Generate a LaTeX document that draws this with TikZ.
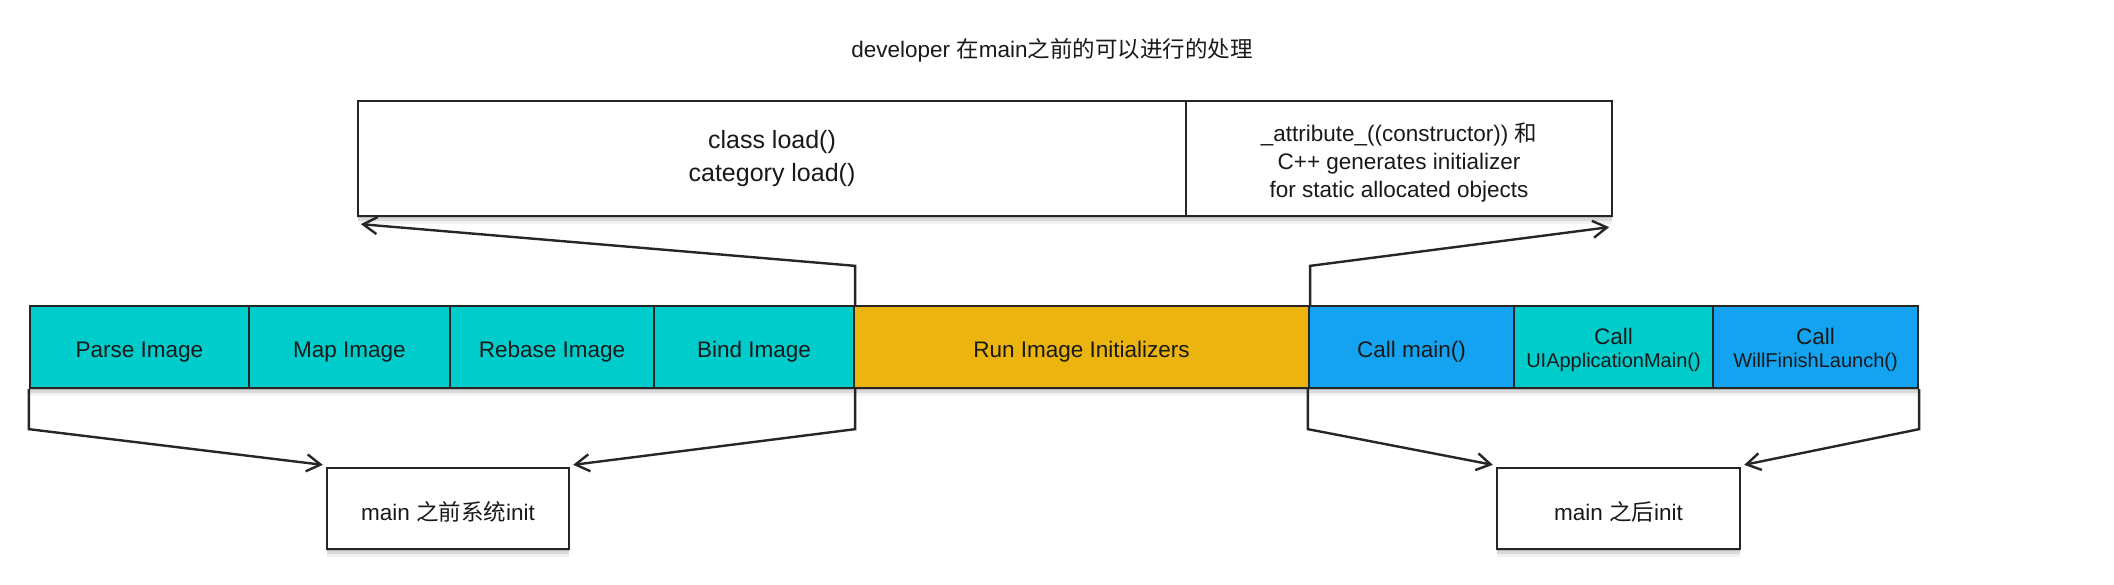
\documentclass[tikz,border=0pt]{standalone}
\usepackage{fontspec}
\setmainfont{Liberation Sans}
\newfontfamily\cjk{Noto Sans CJK SC}
\usetikzlibrary{arrows.meta,calc,shadows}
\definecolor{cteal}{HTML}{00CCCC}
\definecolor{cgold}{HTML}{EBB40E}
\definecolor{cblue}{HTML}{14A3F0}
\newcommand\myfs{\fontsize{22.5}{28}\selectfont}
\newcommand\mybig{\fontsize{25}{33}\selectfont}
\newcommand\mysmall{\fontsize{20}{26}\selectfont}
\begin{document}
\begin{tikzpicture}[x=1pt,y=-1pt,
  shd/.style={
    drop shadow={shadow xshift=0pt,shadow yshift=-2pt,opacity=.16,fill=black},
    drop shadow={shadow xshift=0pt,shadow yshift=-5pt,opacity=.10,fill=black},
    drop shadow={shadow xshift=0pt,shadow yshift=-8pt,opacity=.05,fill=black}},
  box/.style={rectangle,draw=black!85,line width=2.3pt,inner sep=0pt,align=center,font=\myfs,text=black!90,shd},
  barbox/.style={box,minimum height=82pt,text height=26pt},
  twoline/.style={text height=45.6pt},
  arr/.style={draw=black!85,line width=2.4pt,-{Straight Barb[length=14pt,width=17pt]}}]
\useasboundingbox (0,0) rectangle (2114,584);

% title
\node[font=\myfs,text=black!90] (title) at (1052,50) {developer {\cjk 在}main{\cjk 之前的可以进行的处理}};

% top boxes
\node[box,fill=white,minimum width=828pt,minimum height=115pt,font=\mybig] (load) at (772,158.5) {class load()\\category load()};
\node[box,fill=white,minimum width=426pt,minimum height=115pt,text height=81.7pt] (ctor) at (1399,158.5) {\_attribute\_((constructor)) {\cjk 和}\\C++ generates initializer\\for static allocated objects};

% bar
\node[barbox,fill=cteal,minimum width=219pt] (parse) at (139.5,347) {Parse Image};
\node[barbox,fill=cteal,minimum width=201pt] (map) at (349.5,347) {Map Image};
\node[barbox,fill=cteal,minimum width=204pt] (rebase) at (552,347) {Rebase Image};
\node[barbox,fill=cteal,minimum width=200pt] (bind) at (754,347) {Bind Image};
\node[barbox,fill=cgold,minimum width=455pt] (run) at (1081.5,347) {Run Image Initializers};
\node[barbox,fill=cblue,minimum width=205pt] (callmain) at (1411.5,347) {Call main()};
\node[barbox,twoline,fill=cteal,minimum width=199pt] (uiapp) at (1613.5,347) {Call\\[-5pt]{\mysmall UIApplicationMain()}};
\node[barbox,twoline,fill=cblue,minimum width=205pt] (will) at (1815.5,347) {Call\\[-5pt]{\mysmall WillFinishLaunch()}};

% bottom boxes
\node[box,fill=white,minimum width=242pt,minimum height=81pt,text height=25pt] (before) at (448,508.5) {main {\cjk 之前系统}init};
\node[box,fill=white,minimum width=243pt,minimum height=81pt,text height=25pt] (after) at (1618.5,508.5) {main {\cjk 之后}init};

% connectors
\draw[arr] (bind.north east) -- ++(0,-39) -- ($(load.south west)+(4,7)$);
\draw[arr] (run.north east) -- ++(0,-39) -- ($(ctor.south east)+(-4,10)$);
\draw[arr] (parse.south west) -- ++(0,40) -- ($(before.north west)+(-3,-2)$);
\draw[arr] (bind.south east) -- ++(0,40) -- ($(before.north east)+(3,-2)$);
\draw[arr] (callmain.south west) -- ++(0,40) -- ($(after.north west)+(-3,-2)$);
\draw[arr] (will.south east) -- ++(0,40) -- ($(after.north east)+(3,-2)$);
\end{tikzpicture}
\end{document}
